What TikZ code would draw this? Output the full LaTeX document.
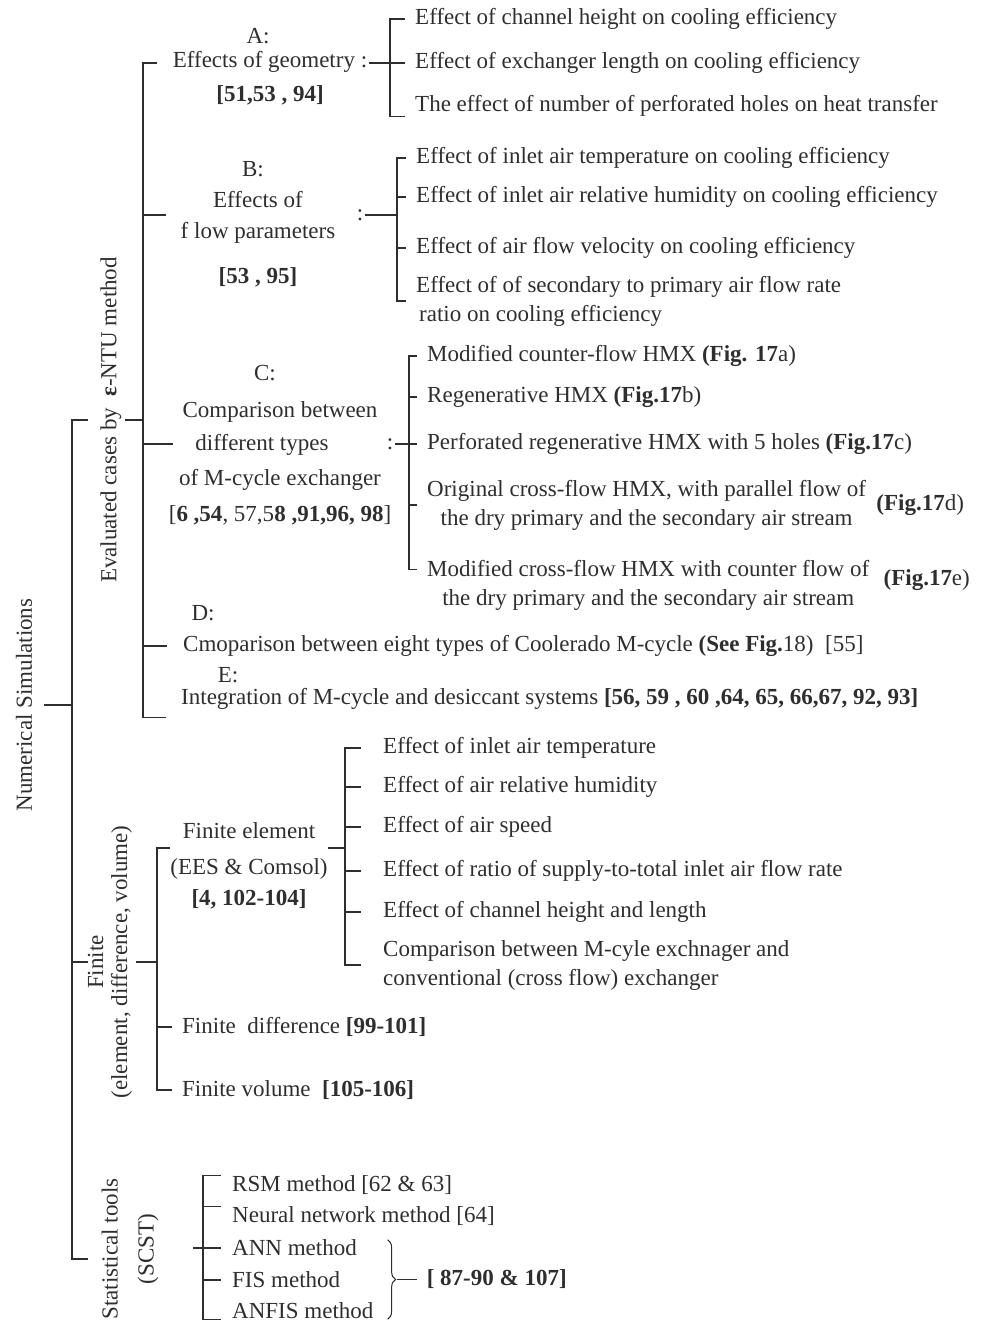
\documentclass[tikz,border=0pt]{standalone}
\usepackage{fontspec}
\setmainfont{Liberation Serif}
\usepackage{tikz}
\usetikzlibrary{positioning,calc,decorations.pathreplacing}
\definecolor{ink}{HTML}{2E2E2E}
\tikzset{
  branch/.style={draw=ink,line width=1.1pt},
  leaf/.style={anchor=west,inner xsep=10pt,inner ysep=0pt,align=left,text=ink},
  head/.style={align=center,inner sep=2pt,text=ink},
  side/.style={rotate=90,align=center,text=ink},
  curly/.style={draw=ink,line width=1pt,decorate,decoration={brace,amplitude=8pt}}
}

\begin{document}
\begin{tikzpicture}[x=1pt,y=-1pt,font=\fontsize{23}{29}\selectfont]
  \useasboundingbox (0,0) rectangle (996,1324);
  % bar positions
  \coordinate (mainbar) at (72,0);
  \coordinate (evbar) at (143,0);
  \coordinate (barA) at (390,0);
  \coordinate (barB) at (397,0);
  \coordinate (barC) at (409,0);
  \coordinate (finbar) at (157,0);
  \coordinate (febar) at (345,0);
  \coordinate (stbar) at (203,0);

  % rotated labels
  \node[side,inner ysep=12pt] (root) at (24,705) {Numerical Simulations};
  \node[side] (ev) at (111,420) {Evaluated cases by\ \ {\bfseries ε}-NTU method};
  \node[side] (fin) at (110,962) {Finite\\[-5pt](element, difference, volume)};
  \node[side] (st) at (130,1249) {Statistical\ tools\\[7pt](SCST)};

  % A: geometry
  \node[head] (ha) at (270,67) {\hspace*{-24pt}A:\\[-5pt]Effects of geometry :\\[5pt]\textbf{[51,53 , 94]}};
  \node[leaf] (a1) at (405,19) {Effect of channel height on cooling efficiency};
  \node[leaf] (a2) at (405,63) {Effect of exchanger length on cooling efficiency};
  \node[leaf] (a3) at (405,106) {The effect of number of perforated holes on heat transfer};
  \draw[branch] (a1.west) -| (barA |- a3.south west) -- (a3.south west);
  \draw[branch] (ha.east |- a2.west) -- (a2.west);

  % B: flow parameters
  \node[head] (hb) at (258,224) {\hspace*{-10pt}B:\\[2pt]Effects of\\[2pt]f low parameters\\[16pt]\textbf{[53 , 95]}};
  \node[head] (colb) at (360,215) {:};
  \node[leaf] (b1) at (406,158) {Effect of inlet air temperature on cooling efficiency};
  \node[leaf] (b2) at (406,197) {Effect of inlet air relative humidity on cooling efficiency};
  \node[leaf] (b3) at (406,248) {Effect of air flow velocity on cooling efficiency};
  \node[leaf] (b4) at (406,301) {Effect of of secondary to primary air flow rate\\\hspace*{3pt}ratio on cooling efficiency};
  \draw[branch] (b1.west) -| (barB |- b4.west) -- (b4.west);
  \foreach \n in {b2,b3} \draw[branch] (barB |- \n.west) -- (\n.west);
  \draw[branch] (colb.east) -- (barB |- colb.east);

  % C: exchanger types
  \node[head] (hc) at (280,445) {\hspace*{-30pt}C:\\[8pt]Comparison between\\[4pt]\hspace*{-36pt}different types\\[6pt]of M-cycle exchanger\\[7pt]{[}\textbf{6 ,54}, 57,5\textbf{8 ,91,96, 98}]};
  \node[head] (colc) at (390,444) {:};
  \node[leaf] (c1) at (417,356) {Modified counter-flow HMX \textbf{(Fig. 17}a)};
  \node[leaf] (c2) at (417,397) {Regenerative HMX \textbf{(Fig.17}b)};
  \node[leaf] (c3) at (417,444) {Perforated regenerative HMX with 5 holes \textbf{(Fig.17}c)};
  \node[leaf,align=center] (c4) at (417,505) {Original cross-flow HMX, with parallel flow of\\the dry primary and the secondary air stream};
  \node[leaf,align=center] (c5) at (417,585) {Modified cross-flow HMX with counter flow of\\the dry primary and the secondary air stream};
  \node[text=ink,inner sep=0pt,right=0pt of c4] (c4f) {\textbf{(Fig.17}d)};
  \node[text=ink,inner sep=0pt,right=4pt of c5,yshift=5pt] (c5f) {\textbf{(Fig.17}e)};
  \coordinate (c5t) at ([yshift=-10pt]c5.north west);
  \draw[branch] (c1.west) -| (barC |- c5t) -- (c5t);
  \foreach \n in {c2,c3,c4} \draw[branch] (barC |- \n.west) -- (\n.west);
  \draw[branch] (colc.east) -- (barC |- colc.east);

  % D and E
  \node[text=ink,inner sep=0pt] (hdl) at (203,613) {D:};
  \node[leaf,inner xsep=16pt] (hd) at (167,646) {Cmoparison between eight types of Coolerado M-cycle \textbf{(See Fig.}18)\ \ [55]};
  \node[text=ink,inner sep=0pt] (hel) at (228,675) {E:};
  \node[leaf,inner xsep=15pt] (he) at (166,699) {Integration of M-cycle and desiccant systems \textbf{[56, 59 , 60 ,64, 65, 66,67, 92, 93]}};
  \coordinate (ebot) at ([yshift=-8pt]he.south west);
  \draw[branch] (evbar |- a2.west) ++(14,0) -- (evbar |- a2.west) -- (evbar |- ebot) -- (ebot);
  \draw[branch] (evbar |- colb) -- ++(23,0);
  \draw[branch] (evbar |- colc) -- ++(30,0);
  \draw[branch] (evbar |- hd.west) -- (hd.west);
  \draw[branch] (ev.south) -- (evbar |- ev.south);

  % finite methods
  \node[head,inner sep=0pt] (hfe) at (249,866) {Finite element\\[7pt](EES \& Comsol)\\[2pt]\textbf{[4, 102-104]}};
  \node[leaf,inner xsep=22pt] (f1) at (361,748) {Effect of inlet air temperature};
  \node[leaf,inner xsep=22pt] (f2) at (361,787) {Effect of air relative humidity};
  \node[leaf,inner xsep=22pt] (f3) at (361,827) {Effect of air speed};
  \node[leaf,inner xsep=22pt] (f4) at (361,871) {Effect of ratio of supply-to-total inlet air flow rate};
  \node[leaf,inner xsep=22pt] (f5) at (361,912) {Effect of channel height and length};
  \node[leaf,inner xsep=22pt] (f6) at (361,965) {Comparison between M-cyle exchnager and\\conventional (cross flow) exchanger};
  \node[leaf] (fd) at (172,1027) {Finite\ \ difference \textbf{[99-101]}};
  \node[leaf] (fv) at (172,1090) {Finite volume\ \ \textbf{[105-106]}};
  \coordinate (fet) at ([yshift=18pt]hfe.west);
  \coordinate (feo) at ([yshift=18pt]hfe.east);
  \draw[branch] (fet) -| (finbar |- fv.west) -- (fv.west);
  \draw[branch] (finbar |- fd.west) -- (fd.west);
  \draw[branch] (fin.south) -- (finbar |- fin.south);
  \draw[branch] (feo) -- (febar |- feo);
  \draw[branch] (f1.west) -| (febar |- f6.west) -- (f6.west);
  \foreach \n in {f2,f3,f4,f5} \draw[branch] (febar |- \n.west) -- (\n.west);

  % statistical tools
  \node[leaf,inner xsep=11pt] (s1) at (221,1185) {RSM method [62 \& 63]};
  \node[leaf,inner xsep=11pt] (s2) at (221,1216) {Neural network method [64]};
  \node[leaf,inner xsep=11pt] (s3) at (221,1248) {ANN method};
  \node[leaf,inner xsep=11pt] (s4) at (221,1280) {FIS method};
  \node[leaf,inner xsep=11pt] (s5) at (221,1311) {ANFIS method};
  \draw[branch] (s1.north west) -| (stbar |- s5.south west) -- (s5.south west);
  \draw[branch] (stbar |- s2.north west) -- (s2.north west);
  \draw[branch] (s3.west) -- ++(-28,0);
  \draw[branch] (stbar |- s4.west) -- (s4.west);
  \coordinate (brtop) at ($(s5.east |- s3.north)+(3,0)$);
  \coordinate (brbot) at ($(s5.east |- s5.south)+(3,0)$);
  \draw[curly] (brtop) -- (brbot);
  \node[leaf] (sref) at ($(brtop)!.5!(brbot)+(29,0)$) {\textbf{[ 87-90 \& 107]}};
  \draw[branch] ($(brtop)!.5!(brbot)+(9,0)$) -- (sref.west);

  % main bar
  \coordinate (mainbot) at ($(mainbar |- st.south)+(0,10)$);
  \draw[branch] (mainbar |- ev.north) ++(16,0) -- (mainbar |- ev.north) -- (mainbot) -- ++(16,0);
  \draw[branch] (mainbar |- fin.north) -- ++(16,0);
  \draw[branch] (root.south) -- (mainbar |- root.south);
\end{tikzpicture}
\end{document}
